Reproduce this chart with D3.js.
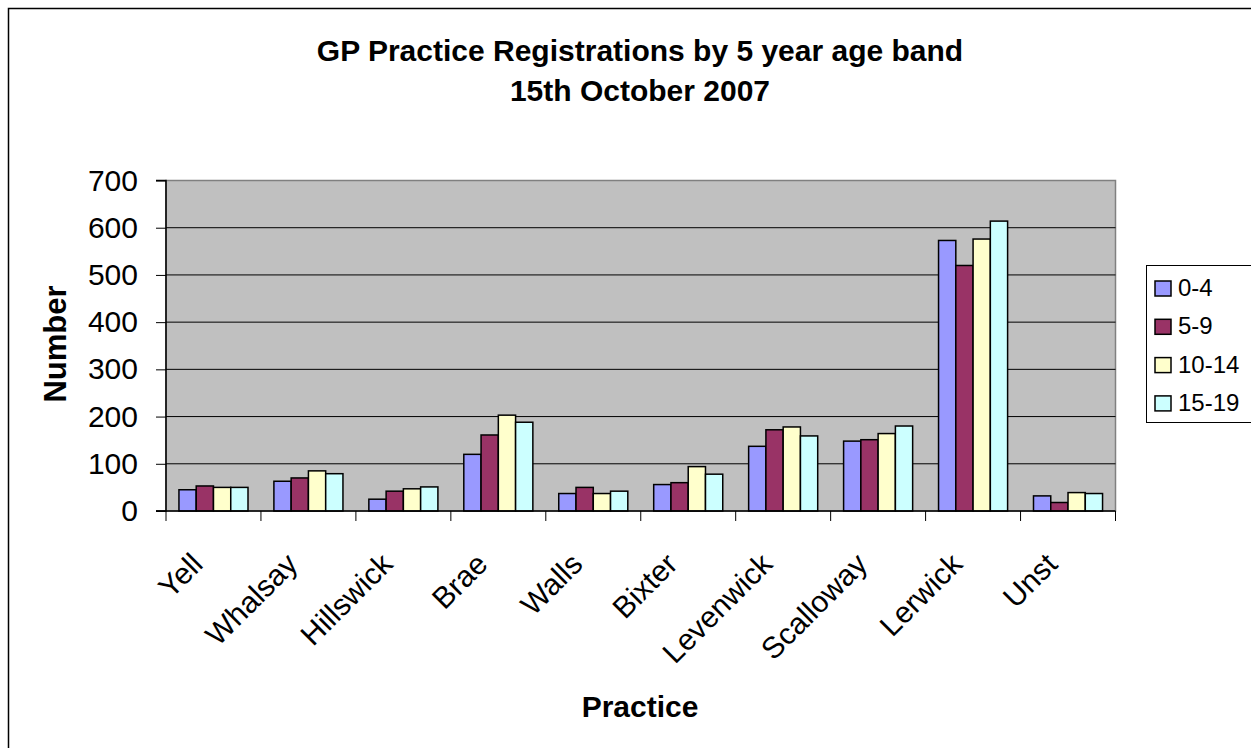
<!DOCTYPE html>
<html>
<head>
<meta charset="utf-8">
<script src="https://cdn.jsdelivr.net/npm/d3@7/dist/d3.min.js"></script>
<style>
  html, body { margin: 0; padding: 0; background: #fff; }
  svg { display: block; font-family: Arial, "Liberation Sans", sans-serif; }
</style>
</head>
<body>
<svg id="chart" width="1251" height="748"></svg>
<script>
// Practices and registrations per 5-year age band
const practices = ["Yell", "Whalsay", "Hillswick", "Brae", "Walls", "Bixter", "Levenwick", "Scalloway", "Lerwick", "Unst"];
const ageBands = ["0-4", "5-9", "10-14", "15-19"];
const band0to4   = [45, 63, 25, 120, 37, 56, 137, 148, 573, 32];
const band5to9   = [53, 70, 42, 161, 50, 60, 172, 151, 520, 18];
const band10to14 = [50, 85, 47, 203, 37, 94, 178, 164, 576, 39];
const band15to19 = [50, 79, 51, 188, 42, 78, 159, 180, 614, 37];
const yTicks = [0, 100, 200, 300, 400, 500, 600, 700];
const bandColors = ["#9999FF", "#993366", "#FFFFCC", "#CCFFFF"];

const seriesValues = [band0to4, band5to9, band10to14, band15to19];

const svg = d3.select("#chart");

// outer chart frame
svg.append("rect")
  .attr("x", 8.5).attr("y", 8.5)
  .attr("width", 1300).attr("height", 800)
  .attr("fill", "#fff").attr("stroke", "#000").attr("stroke-width", 1.5);

const plot = { left: 166, top: 180.5, right: 1115.5, bottom: 511 };

const x0 = d3.scaleBand()
  .domain(practices)
  .range([plot.left, plot.right])
  .paddingInner(0).paddingOuter(0);

// group of 4 bars with a 150% gap: band = 5.5 bar widths
const barW = x0.bandwidth() / 5.5;
const x1 = d3.scaleBand()
  .domain(ageBands)
  .range([0, barW * 4]);

const y = d3.scaleLinear().domain([0, 700]).range([plot.bottom, plot.top]);

// plot background
svg.append("rect")
  .attr("x", plot.left).attr("y", plot.top)
  .attr("width", plot.right - plot.left).attr("height", plot.bottom - plot.top)
  .attr("fill", "#C0C0C0").attr("stroke", "#808080").attr("stroke-width", 1.5);

// horizontal gridlines
svg.append("g")
  .selectAll("line")
  .data(yTicks.filter(t => t > 0 && t < 700))
  .join("line")
  .attr("x1", plot.left).attr("x2", plot.right)
  .attr("y1", d => y(d)).attr("y2", d => y(d))
  .attr("stroke", "#000").attr("stroke-width", 1);

// bars
const groups = svg.append("g")
  .selectAll("g")
  .data(practices)
  .join("g")
  .attr("transform", p => `translate(${x0(p) + barW * 0.75},0)`);

groups.selectAll("rect")
  .data((p, i) => ageBands.map((b, j) => ({ band: b, value: seriesValues[j][i], j })))
  .join("rect")
  .attr("x", d => x1(d.band))
  .attr("y", d => y(d.value))
  .attr("width", x1.bandwidth())
  .attr("height", d => y(0) - y(d.value))
  .attr("fill", d => bandColors[d.j])
  .attr("stroke", "#000")
  .attr("stroke-width", 1.5);

// y axis
const yAxis = d3.axisLeft(y).tickValues(yTicks).tickSize(10).tickPadding(18);
const yg = svg.append("g")
  .attr("transform", `translate(${plot.left},0)`)
  .call(yAxis);
yg.select(".domain").attr("stroke", "#000").attr("stroke-width", 1.5).attr("d", `M-10,${plot.top}H0V${plot.bottom}H-10`);
yg.selectAll(".tick line").attr("stroke", "#000");
yg.selectAll(".tick text")
  .attr("font-size", 30).attr("fill", "#000")
  .attr("font-family", "Arial, 'Liberation Sans', sans-serif");

// x axis: ticks at category boundaries
const boundaries = practices.map(p => x0(p)).concat([plot.right]);
svg.append("line")
  .attr("x1", plot.left - 10).attr("x2", plot.right)
  .attr("y1", plot.bottom).attr("y2", plot.bottom)
  .attr("stroke", "#000").attr("stroke-width", 1.5);
svg.append("g")
  .selectAll("line")
  .data(boundaries)
  .join("line")
  .attr("x1", d => d).attr("x2", d => d)
  .attr("y1", plot.bottom).attr("y2", plot.bottom + 10)
  .attr("stroke", "#000").attr("stroke-width", 1);

svg.append("g")
  .selectAll("text")
  .data(practices)
  .join("text")
  .attr("text-anchor", "end")
  .attr("font-size", 30)
  .attr("transform", p => `translate(${x0(p) + x0.bandwidth() / 2 - 9},${plot.bottom + 55}) rotate(-45)`)
  .text(p => p);

// titles
svg.append("text")
  .attr("x", 640).attr("y", 61)
  .attr("text-anchor", "middle")
  .attr("font-size", 30).attr("font-weight", "bold")
  .text("GP Practice Registrations by 5 year age band");
svg.append("text")
  .attr("x", 640).attr("y", 101)
  .attr("text-anchor", "middle")
  .attr("font-size", 30).attr("font-weight", "bold")
  .text("15th October 2007");

svg.append("text")
  .attr("x", 640).attr("y", 717)
  .attr("text-anchor", "middle")
  .attr("font-size", 30).attr("font-weight", "bold")
  .text("Practice");

svg.append("text")
  .attr("transform", "translate(66,344) rotate(-90)")
  .attr("text-anchor", "middle")
  .attr("font-size", 31).attr("font-weight", "bold")
  .text("Number");

// legend
const legend = svg.append("g");
legend.append("rect")
  .attr("x", 1146.5).attr("y", 265.5)
  .attr("width", 150).attr("height", 157)
  .attr("fill", "#fff").attr("stroke", "#000").attr("stroke-width", 1);
const items = legend.selectAll("g")
  .data(ageBands)
  .join("g")
  .attr("transform", (d, i) => `translate(1155,${296 + i * 38.3})`);
items.append("rect")
  .attr("x", 0).attr("y", -15)
  .attr("width", 16).attr("height", 15)
  .attr("fill", (d, i) => bandColors[i])
  .attr("stroke", "#000").attr("stroke-width", 1.5);
items.append("text")
  .attr("x", 23).attr("y", 0)
  .attr("font-size", 24)
  .text(d => d);
</script>
</body>
</html>
